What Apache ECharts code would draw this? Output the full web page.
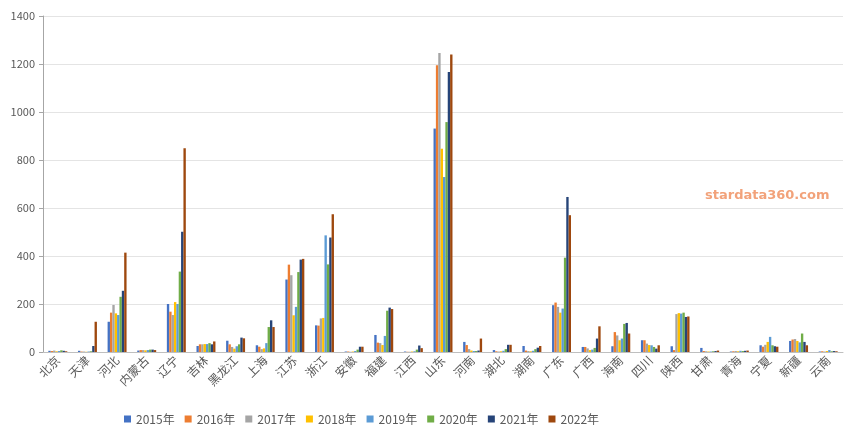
<!DOCTYPE html>
<html><head><meta charset="utf-8">
<script src="https://cdn.jsdelivr.net/npm/echarts@6/dist/echarts.min.js"></script>
<style>html,body{margin:0;padding:0;background:#fff}#c{width:859px;height:428px}</style>
</head><body><div id="c"></div>
<script>
const categories = ['北京','天津','河北','内蒙古','辽宁','吉林','黑龙江','上海','江苏','浙江','安徽','福建','江西','山东','河南','湖北','湖南','广东','广西','海南','四川','陕西','甘肃','青海','宁夏','新疆','云南'];
const seriesNames = ['2015年','2016年','2017年','2018年','2019年','2020年','2021年','2022年'];
const yTicks = [0,200,400,600,800,1000,1200,1400];
// values per province, ordered 2015..2022
const bj  = [5,4,6,3,4,7,5,3];
const tj  = [5,2,2,1,2,3,25,126];
const heb = [126,164,196,161,154,230,255,414];
const nmg = [6,8,8,7,8,10,10,8];
const ln  = [200,168,154,208,200,335,501,849];
const jl  = [25,32,32,33,33,37,32,44];
const hlj = [47,32,21,14,24,32,60,57];
const sh  = [28,22,12,15,37,104,132,104];
const js  = [302,364,320,153,188,333,385,388];
const zj  = [111,110,140,142,486,365,477,574];
const ah  = [2,2,1,2,4,10,22,22];
const fj  = [71,39,37,29,67,172,185,179];
const jx  = [2,1,1,2,3,10,27,16];
const sd  = [931,1195,1246,847,729,958,1167,1240];
const hen = [42,29,12,6,4,4,6,56];
const hub = [8,3,2,3,5,12,30,30];
const hun = [25,6,4,3,5,12,18,25];
const gd  = [195,206,188,164,181,393,646,570];
const gx  = [21,21,15,8,10,17,56,107];
const hn  = [24,83,69,49,56,117,121,77];
const sc  = [49,49,35,29,28,21,14,28];
const sx  = [24,8,158,162,160,164,146,148];
const gs  = [17,4,3,2,2,3,4,6];
const qh  = [2,3,4,3,5,4,5,6];
const nx  = [28,22,30,42,63,28,24,22];
const xj  = [46,52,54,46,40,77,42,28];
const yn  = [2,3,2,4,8,3,4,3];
const rows = [bj,tj,heb,nmg,ln,jl,hlj,sh,js,zj,ah,fj,jx,sd,hen,hub,hun,gd,gx,hn,sc,sx,gs,qh,nx,xj,yn];
const colors = ['#4472C4','#ED7D31','#A5A5A5','#FFC000','#5B9BD5','#70AD47','#264478','#9E480E'];

const chart = echarts.init(document.getElementById('c'), null, {renderer:'canvas'});
const font = '"Microsoft YaHei","Noto Sans CJK SC",sans-serif';
chart.setOption({
  animation:false,
  color: colors,
  grid:{left:43,right:16,top:16,bottom:76,containLabel:false},
  legend:{
    data: seriesNames, left:119, top:408, itemWidth:7, itemHeight:7, itemGap:10,
    icon:'rect', textStyle:{color:'#595959',fontSize:12,fontFamily:font}
  },
  xAxis:{
    type:'category', data:categories,
    axisLine:{lineStyle:{color:'#BFBFBF'}},
    axisTick:{alignWithLabel:true,length:4,lineStyle:{color:'#BFBFBF'}},
    axisLabel:{rotate:45,interval:0,color:'#595959',fontSize:12,fontFamily:font,margin:6}
  },
  yAxis:{
    type:'value', min:yTicks[0], max:yTicks[yTicks.length-1], interval:200,
    axisLine:{show:true,lineStyle:{color:'#A6A6A6'}},
    axisTick:{show:true,length:4,lineStyle:{color:'#A6A6A6'}},
    splitLine:{lineStyle:{color:'#E4E4E4'}},
    axisLabel:{color:'#595959',fontSize:11,fontFamily:font,margin:8,formatter:v=>String(v)}
  },
  graphic:[{type:'text',left:705,top:189,style:{text:'stardata360.com',fill:'#F2A27A',font:'bold 13px "DejaVu Sans",sans-serif'}}],
  series: seriesNames.map((n,i)=>({
    name:n, type:'bar', barGap:'0%', barCategoryGap:'36%',
    data: rows.map(r=>r[i])
  }))
});
</script></body></html>
